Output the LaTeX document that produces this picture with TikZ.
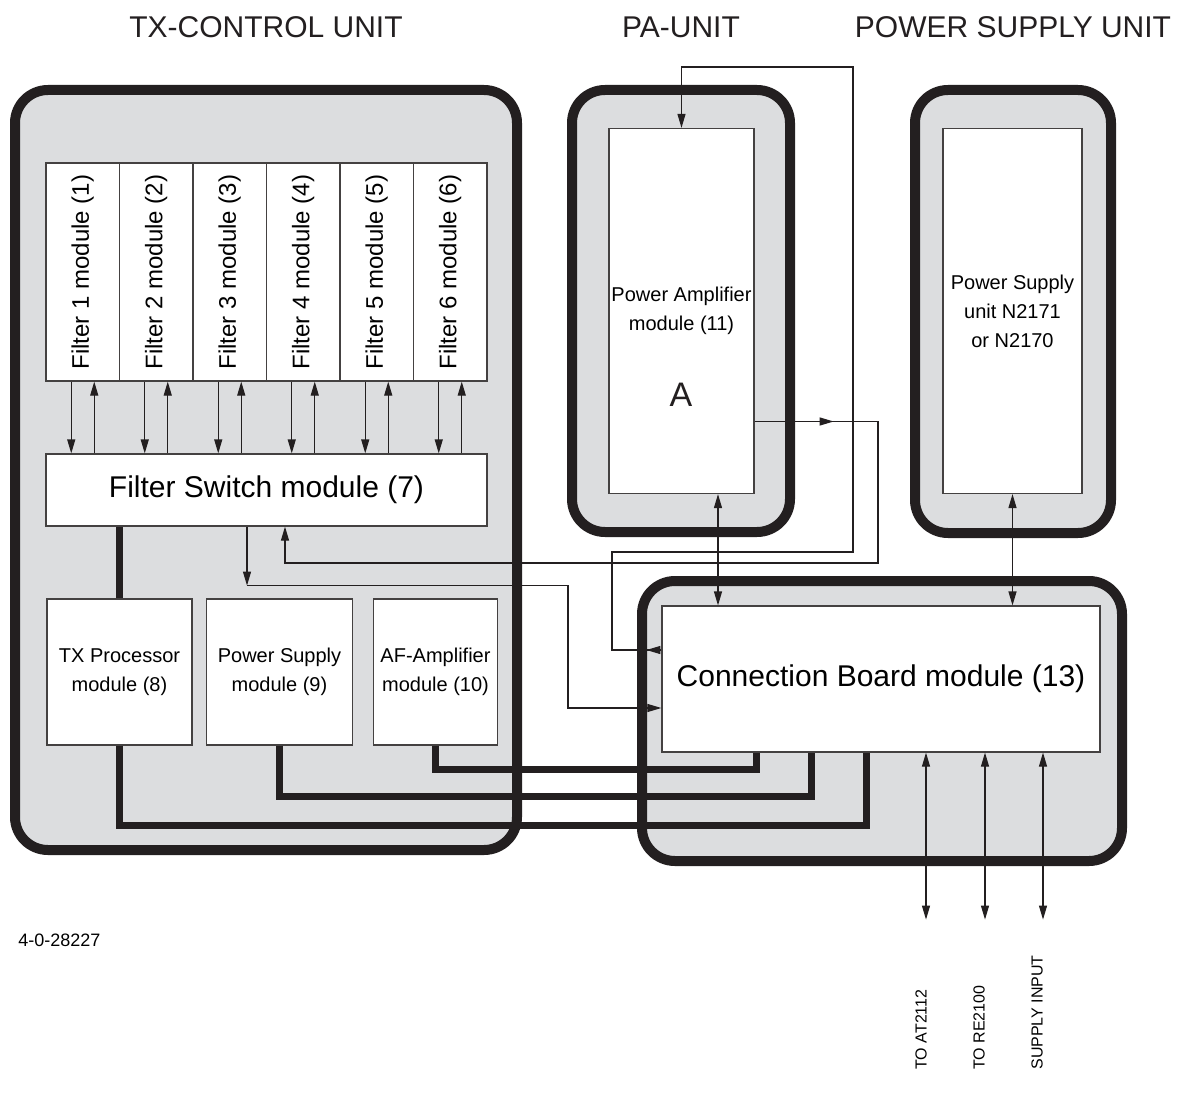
\documentclass[tikz,border=0pt]{standalone}
\usepackage{fontspec}
\setmainfont{Liberation Sans}
\usepackage{graphicx}
\usetikzlibrary{arrows.meta}
\definecolor{unitgray}{HTML}{DCDDDF}
\definecolor{ink}{HTML}{231F20}
\tikzset{
	unitframe/.style={draw=ink, line width=5pt, fill=unitgray, rounded corners=16.5pt},
	modbox/.style={draw=ink!85, line width=0.6pt, fill=white, inner sep=0pt, align=center},
	sig/.style={draw=ink, line width=0.6pt, -{Triangle[length=7pt,width=4pt]}},
	bisig/.style={draw=ink, line width=0.6pt, {Triangle[length=7pt,width=4pt]}-{Triangle[length=7pt,width=4pt]}},
	wire/.style={draw=ink, line width=3.5pt},
	big/.style={font=\fontsize{15}{18}\selectfont},
	small/.style={font=\fontsize{10}{14.5}\selectfont},
	outlabel/.style={font=\fontsize{8}{10}\selectfont, rotate=90, anchor=west, inner sep=0pt}
}

\begin{document}
\begin{tikzpicture}[x=0.5pt, y=-0.5pt]
			\useasboundingbox (0,0) rectangle (1189,1097);
			\node[big, text=ink] (txhead) at (266,27) {TX-CONTROL UNIT};
			\node[big, text=ink] (pahead) at (681,27) {PA-UNIT};
			\node[big, text=ink] (pshead) at (1013,27) {POWER SUPPLY UNIT};
			\draw[unitframe] (15,90) rectangle (517,850);
			\draw[unitframe] (572,90) rectangle (790,532);
			\draw[unitframe] (915,90) rectangle (1111,533);
			\draw[unitframe] (642,581) rectangle (1122,861);
			\foreach \i in {1,...,6}
				\node[modbox, minimum width=36.75pt, minimum height=109pt, font=\fontsize{12}{14}\selectfont] (f\i) at ({46+73.5*(\i-0.5)},272) {\rotatebox{90}{Filter \i{} module (\i)}};
			\node[modbox, big, minimum width=220.5pt, minimum height=36pt] (fsw) at (266.5,490) {Filter Switch module (7)};
			\node[modbox, small, minimum width=72.5pt, minimum height=73pt] (tp) at (119.5,672) {TX Processor\\module (8)};
			\node[modbox, small, minimum width=73pt, minimum height=73pt] (psm) at (279.5,672) {Power Supply\\module (9)};
			\node[modbox, small, minimum width=62pt, minimum height=73pt] (af) at (435.5,672) {AF-Amplifier\\module (10)};
			\node[modbox, small, minimum width=72.5pt, minimum height=182.5pt] (pa) at (681.5,311) {Power Amplifier\\module (11)};
			\node[font=\fontsize{17}{20}\selectfont, text=ink] (pamark) at (681,395) {A};
			\node[modbox, small, minimum width=69.5pt, minimum height=182.5pt] (ps) at (1012.5,311) {Power Supply\\unit N2171\\or N2170};
			\node[modbox, big, minimum width=219pt, minimum height=73pt] (cb) at (881,679) {Connection Board module (13)};
			\foreach \i in {1,...,6} {
				\draw[sig] ([xshift=-5.75pt]f\i.south) -- ([xshift=-5.75pt]f\i.south |- fsw.north);
				\draw[sig] ([xshift=5.75pt]f\i.south |- fsw.north) -- ([xshift=5.75pt]f\i.south);
			}
			\draw[wire] (tp.north) -- (tp.north |- fsw.south);
			\draw[wire] (tp.south) |- ([xshift=-7.5pt,yshift=-36.5pt]cb.south) -- ([xshift=-7.5pt]cb.south);
			\draw[wire] (psm.south) |- ([xshift=-35pt,yshift=-22pt]cb.south) -- ([xshift=-35pt]cb.south);
			\draw[wire] (af.south) |- ([xshift=-62.5pt,yshift=-8.5pt]cb.south) -- ([xshift=-62.5pt]cb.south);
			\coordinate (cbout) at ([yshift=14.5pt]cb.west);
			\coordinate (cbin) at ([yshift=-14.5pt]cb.west);
			\coordinate (paout) at ([yshift=-55.25pt]pa.east);
			\coordinate (fswout) at ([xshift=-9.75pt]fsw.south);
			\coordinate (fswbend) at ([yshift=-29.5pt]fswout);
			\draw[sig] (cbout) -- ++(-15,0);
			\draw[sig] (cbout) -| (612,552) -| (853,67) -| (pa.north);
			\draw[sig] (paout) -- ++(79,0);
			\draw[sig] (paout) -| (878,563) -| ([xshift=9.25pt]fsw.south);
			\draw[sig] (fswout) -- (fswbend);
			\draw[sig] (fswbend) -| (568,708) -- (cbin);
			\draw[bisig] ([xshift=18.25pt]pa.south) -- ([xshift=18.25pt]pa.south |- cb.north);
			\draw[bisig] (ps.south) -- (ps.south |- cb.north);
			\coordinate (atend) at ([xshift=22.5pt,yshift=-83.5pt]cb.south);
			\coordinate (reend) at ([xshift=52pt,yshift=-83.5pt]cb.south);
			\coordinate (supend) at ([xshift=81pt,yshift=-83.5pt]cb.south);
			\draw[bisig] ([xshift=22.5pt]cb.south) -- (atend);
			\draw[bisig] ([xshift=52pt]cb.south) -- (reend);
			\draw[bisig] ([xshift=81pt]cb.south) -- (supend);
			\node[outlabel] (atlabel) at (921,1070) {TO AT2112};
			\node[outlabel] (relabel) at (979,1070) {TO RE2100};
			\node[outlabel] (suplabel) at (1037,1070) {SUPPLY INPUT};
			\node[font=\fontsize{9}{11}\selectfont, anchor=west, inner sep=0pt] (drawno) at (18,940) {4-0-28227};
		\end{tikzpicture}
\end{document}
